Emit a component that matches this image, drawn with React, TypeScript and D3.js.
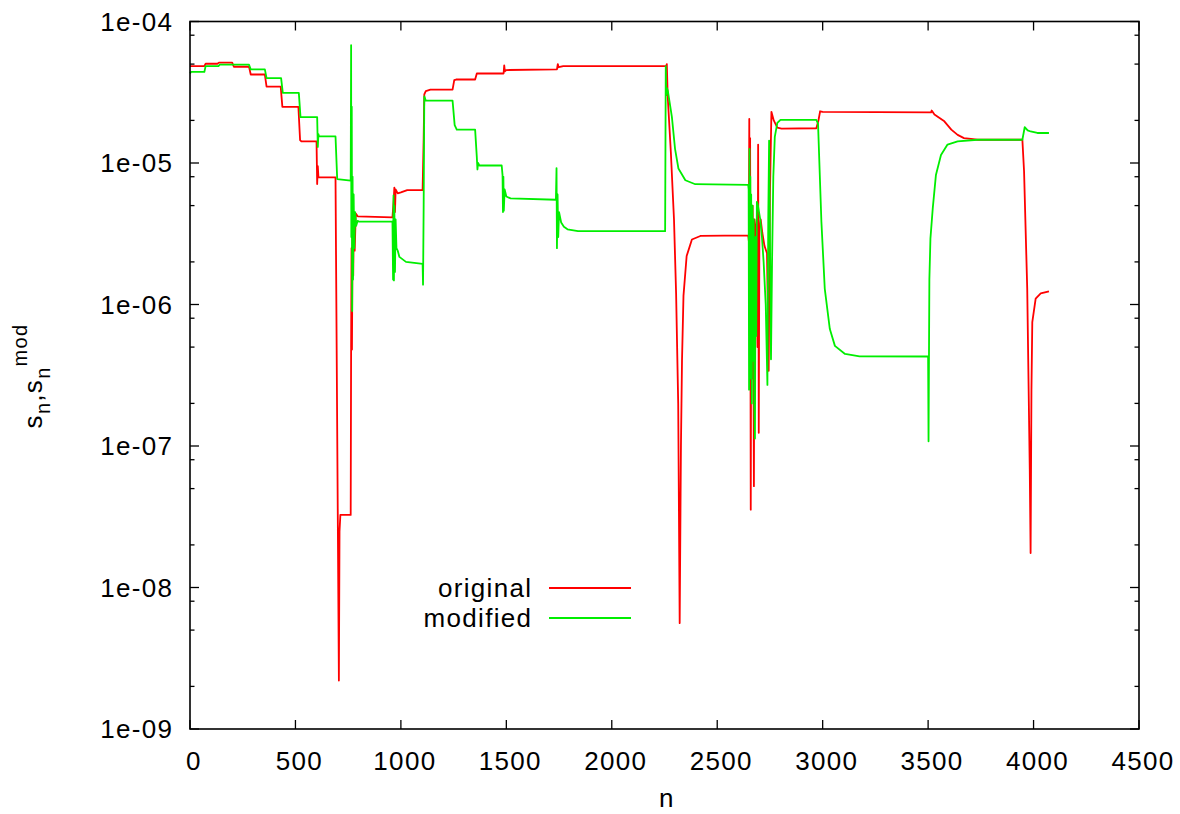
import * as d3 from "d3";

// data (n, s_n)
const originalN = [
  0, 68, 74, 130, 137, 200, 208, 280, 288, 355, 363, 430, 438, 514, 522, 528, 600, 603, 606, 609, 690,
  706, 709, 713, 762, 764, 766, 768, 771, 774, 777, 781, 786, 795, 960, 966, 969, 972, 975, 985, 1000,
  1030, 1103, 1108, 1111, 1118, 1140, 1245, 1253, 1262, 1352, 1360, 1487, 1490, 1493, 1500, 1740, 1744,
  1748, 1770, 2258, 2261, 2265, 2280, 2295, 2305, 2315, 2322, 2328, 2333, 2340, 2355, 2380, 2420, 2647,
  2650, 2652, 2654, 2656, 2659, 2662, 2665, 2668, 2671, 2674, 2677, 2681, 2686, 2691, 2694, 2697, 2700,
  2706, 2714, 2724, 2736, 2744, 2750, 2757, 2768, 2785, 2805, 2970, 2980, 2988, 3000, 3514, 3517, 3530,
  3577, 3610, 3640, 3670, 3703, 3734, 3947, 3955, 3970, 3982, 3986, 3990, 3994, 4010, 4034, 4073,
];
const originalS = [
  4.84e-5, 4.84e-5, 5.03e-5, 5.03e-5, 5.12e-5, 5.12e-5, 4.79e-5, 4.79e-5, 4.22e-5, 4.22e-5, 3.47e-5,
  3.47e-5, 2.49e-5, 2.49e-5, 1.45e-5, 1.42e-5, 1.42e-5, 7.1e-6, 9.5e-6, 7.92e-6, 7.92e-6,
  2.2e-9, 2.5e-8, 3.26e-8, 3.26e-8, 5e-7, 2.5e-6, 4.8e-7, 3.5e-6, 1.6e-6, 4.5e-6, 2.4e-6, 4.4e-6,
  4.2e-6, 4.13e-6, 5.5e-6, 6.7e-6, 4.5e-6, 6.5e-6, 6.1e-6, 6.2e-6,
  6.44e-6, 6.44e-6, 1.5e-5, 3.05e-5, 3.22e-5, 3.3e-5, 3.3e-5, 3.85e-5, 3.89e-5, 3.89e-5, 4.29e-5,
  4.29e-5, 4.9e-5, 4.45e-5, 4.54e-5, 4.59e-5, 5.0e-5,
  4.75e-5, 4.84e-5, 4.84e-5, 5.0e-5, 3.0e-5, 1.2e-5, 4e-6, 1.2e-6, 2e-7, 5.6e-9, 1e-7, 4e-7, 1.15e-6,
  2.2e-6, 2.88e-6, 3.05e-6, 3.08e-6,
  2.8e-6, 2.05e-5, 1.5e-6, 1.5e-5, 3.55e-8, 4.8e-6, 3e-7, 5e-6, 1e-6, 5.2e-8, 4e-6, 3.5e-6, 2.6e-6,
  5e-7, 1.35e-5, 1.24e-7, 3.5e-6,
  4e-6, 3.2e-6, 2.6e-6, 2.3e-6, 3.4e-7, 6e-6, 2.3e-5, 2.0e-5, 1.78e-5, 1.75e-5, 1.76e-5, 2.0e-5,
  2.32e-5, 2.3e-5, 2.28e-5, 2.35e-5, 2.2e-5,
  1.97e-5, 1.72e-5, 1.58e-5, 1.5e-5, 1.48e-5, 1.46e-5, 1.46e-5, 8.7e-6, 1.29e-6, 6.8e-8, 1.75e-8,
  2.5e-7, 7.5e-7, 1.1e-6, 1.2e-6, 1.24e-6,
];

const modifiedN = [
  0, 5, 68, 74, 135, 141, 280, 288, 355, 363, 432, 440, 516, 524, 603, 606, 609, 612, 690, 698, 762,
  764, 765, 767, 769, 771, 773, 776, 779, 783, 788, 795, 800, 960, 963, 965, 967, 969, 972, 975, 979,
  985, 993, 1024, 1103, 1105, 1108, 1111, 1118, 1245, 1255, 1265, 1352, 1360, 1363, 1366, 1372, 1478,
  1482, 1484, 1486, 1488, 1492, 1500, 1520, 1735, 1738, 1740, 1743, 1746, 1750, 1760, 1773, 1790, 1840,
  2253, 2256, 2258, 2261, 2266, 2285, 2300, 2316, 2349, 2396, 2647,
  2649, 2651, 2653, 2655, 2657, 2659, 2661, 2664, 2667, 2670, 2673, 2676, 2679, 2682, 2685, 2688, 2692,
  2697, 2704, 2712, 2720, 2730, 2738, 2742, 2746, 2750, 2755, 2760, 2766, 2773, 2785, 2800,
  2970, 2978, 2994, 3010, 3034, 3058, 3106, 3175, 3500, 3502, 3506, 3511, 3522, 3537, 3561, 3592, 3640,
  3734, 3947, 3958, 3972, 3986, 4018, 4073,
];
const modifiedS = [
  4.3e-5, 4.4e-5, 4.4e-5, 4.84e-5, 4.84e-5, 4.95e-5, 4.95e-5, 4.59e-5, 4.59e-5, 3.98e-5, 3.98e-5,
  3.13e-5, 3.13e-5, 2.11e-5, 2.11e-5, 1.3e-5, 1.6e-5, 1.54e-5, 1.54e-5, 7.7e-6, 7.5e-6,
  6.8e-5, 3e-6, 2.5e-5, 9e-7, 8e-6, 1.5e-6, 6e-6, 2.5e-6, 4.5e-6, 3.6e-6, 3.9e-6, 3.86e-6, 3.85e-6,
  1.5e-6, 5.9e-6, 1.48e-6, 5e-6, 1.7e-6, 4e-6, 2.5e-6,
  2.4e-6, 2.17e-6, 2.0e-6, 1.94e-6, 1.38e-6, 5e-6, 2.96e-5, 2.76e-5, 2.76e-5, 1.85e-5, 1.72e-5,
  1.72e-5, 1.1e-5, 9.0e-6, 1.0e-5, 9.6e-6, 9.6e-6,
  8.2e-6, 4.5e-6, 8e-6, 4.6e-6, 6.5e-6, 5.8e-6, 5.62e-6, 5.5e-6, 9.2e-6, 2.5e-6, 6e-6, 3e-6, 4.5e-6,
  3.8e-6, 3.54e-6, 3.4e-6, 3.3e-6,
  3.3e-6, 4.84e-5, 3.0e-5, 3.4e-5, 3.22e-5, 2.12e-5, 1.26e-5, 9.14e-6, 7.55e-6, 7.08e-6, 7.0e-6,
  6.5e-6, 2.5e-7, 1.26e-5, 5e-7, 8e-6, 3e-7, 6e-6, 2e-7, 5e-6, 4e-7, 4e-6, 2e-7, 1.13e-7, 3e-6, 6e-7,
  5.3e-6, 5.1e-6,
  4.6e-6, 4.0e-6, 3e-6, 2e-6, 1e-6, 2.7e-7, 4e-6, 1.44e-5, 3e-6, 4.1e-7, 2e-6, 8e-6, 1.53e-5, 1.92e-5,
  2.02e-5,
  2.02e-5, 1.9e-5, 3.85e-6, 1.29e-6, 6.7e-7, 5.1e-7, 4.47e-7, 4.3e-7, 4.29e-7, 1.08e-7, 1.5e-6,
  2.92e-6, 4.78e-6, 8.22e-6, 1.14e-5, 1.35e-5, 1.42e-5,
  1.46e-5, 1.46e-5, 1.79e-5, 1.7e-5, 1.67e-5, 1.63e-5, 1.63e-5,
];

const xTicks = [0, 500, 1000, 1500, 2000, 2500, 3000, 3500, 4000, 4500];
const yTicks = [1e-9, 1e-8, 1e-7, 1e-6, 1e-5, 1e-4];
const minorMantissa = [2, 5, 8];

const seriesNames = ["original", "modified"];
const seriesColors = ["#ff0000", "#00ee00"];

const W = 1180;
const H = 814;
const LEFT = 190;
const RIGHT = 1139;
const TOP = 21.5;
const BOTTOM = 729;
const FONT = "'Liberation Sans', Arial, Helvetica, sans-serif";
const FS = 26;
const LS = 1.3;

export default function App() {
  const x = d3.scaleLinear().domain([0, 4500]).range([LEFT, RIGHT]);
  const y = d3.scaleLog().domain([1e-9, 1e-4]).range([BOTTOM, TOP]);

  const line = d3
    .line<[number, number]>()
    .x((d) => x(d[0]))
    .y((d) => y(d[1]));

  const orig: [number, number][] = originalN.map((n, i) => [n, originalS[i]]);
  const mod: [number, number][] = modifiedN.map((n, i) => [n, modifiedS[i]]);

  // minor ticks at 2,5,8 per decade, like the reference
  const minor: number[] = [];
  for (let k = -9; k < -4; k++) {
    minorMantissa.forEach((m) => minor.push(m * Math.pow(10, k)));
  }

  const fmtY = (v: number) => {
    const e = Math.round(Math.log10(v));
    return `1e-${String(-e).padStart(2, "0")}`;
  };

  return (
    <svg
      width={W}
      height={H}
      style={{ position: "absolute", left: 0, top: 0, background: "#fff" }}
      fontFamily={FONT}
    >
      <rect x={0} y={0} width={W} height={H} fill="#fff" />

      {/* ticks */}
      <g stroke="#000" strokeWidth={1.3}>
        {xTicks.map((t) => (
          <g key={"xt" + t}>
            <line x1={x(t)} x2={x(t)} y1={BOTTOM} y2={BOTTOM - 9} />
            <line x1={x(t)} x2={x(t)} y1={TOP} y2={TOP + 9} />
          </g>
        ))}
        {yTicks.map((t) => (
          <g key={"yt" + t}>
            <line x1={LEFT} x2={LEFT + 9} y1={y(t)} y2={y(t)} />
            <line x1={RIGHT} x2={RIGHT - 9} y1={y(t)} y2={y(t)} />
          </g>
        ))}
        {minor.map((t, i) => (
          <g key={"ym" + i}>
            <line x1={LEFT} x2={LEFT + 4.5} y1={y(t)} y2={y(t)} />
            <line x1={RIGHT} x2={RIGHT - 4.5} y1={y(t)} y2={y(t)} />
          </g>
        ))}
      </g>

      {/* tick labels */}
      <g fontSize={FS} letterSpacing={LS} fill="#000">
        {xTicks.map((t) => (
          <text key={"xl" + t} x={x(t) + 4} y={770} textAnchor="middle">
            {t}
          </text>
        ))}
        {yTicks.map((t) => (
          <text key={"yl" + t} x={172 + LS} y={y(t) + 9} textAnchor="end">
            {fmtY(t)}
          </text>
        ))}
      </g>

      {/* axis titles */}
      <text x={667} y={807} fontSize={FS} textAnchor="middle" letterSpacing={LS}>
        n
      </text>
      <text
        transform="translate(42,376) rotate(-90)"
        fontSize={FS}
        textAnchor="middle"
        letterSpacing={LS}
      >
        s
        <tspan dy={8} fontSize={20}>
          n
        </tspan>
        <tspan dy={-8}>,s</tspan>
        <tspan dy={8} fontSize={20}>
          n
        </tspan>
        <tspan dy={-23} fontSize={20}>
          mod
        </tspan>
      </text>

      {/* curves */}
      <g fill="none" strokeWidth={1.8} strokeLinejoin="round">
        <path d={line(orig) ?? ""} stroke={seriesColors[0]} />
        <path d={line(mod) ?? ""} stroke={seriesColors[1]} />
      </g>

      {/* legend */}
      <g fontSize={FS} letterSpacing={LS}>
        {seriesNames.map((name, i) => (
          <g key={name}>
            <text x={531 + LS} y={597 + i * 30} textAnchor="end">
              {name}
            </text>
            <line
              x1={549}
              x2={631}
              y1={588 + i * 30}
              y2={588 + i * 30}
              stroke={seriesColors[i]}
              strokeWidth={1.8}
            />
          </g>
        ))}
      </g>

      {/* frame */}
      <rect
        x={LEFT}
        y={TOP}
        width={RIGHT - LEFT}
        height={BOTTOM - TOP}
        fill="none"
        stroke="#000"
        strokeWidth={1.6}
      />
    </svg>
  );
}
